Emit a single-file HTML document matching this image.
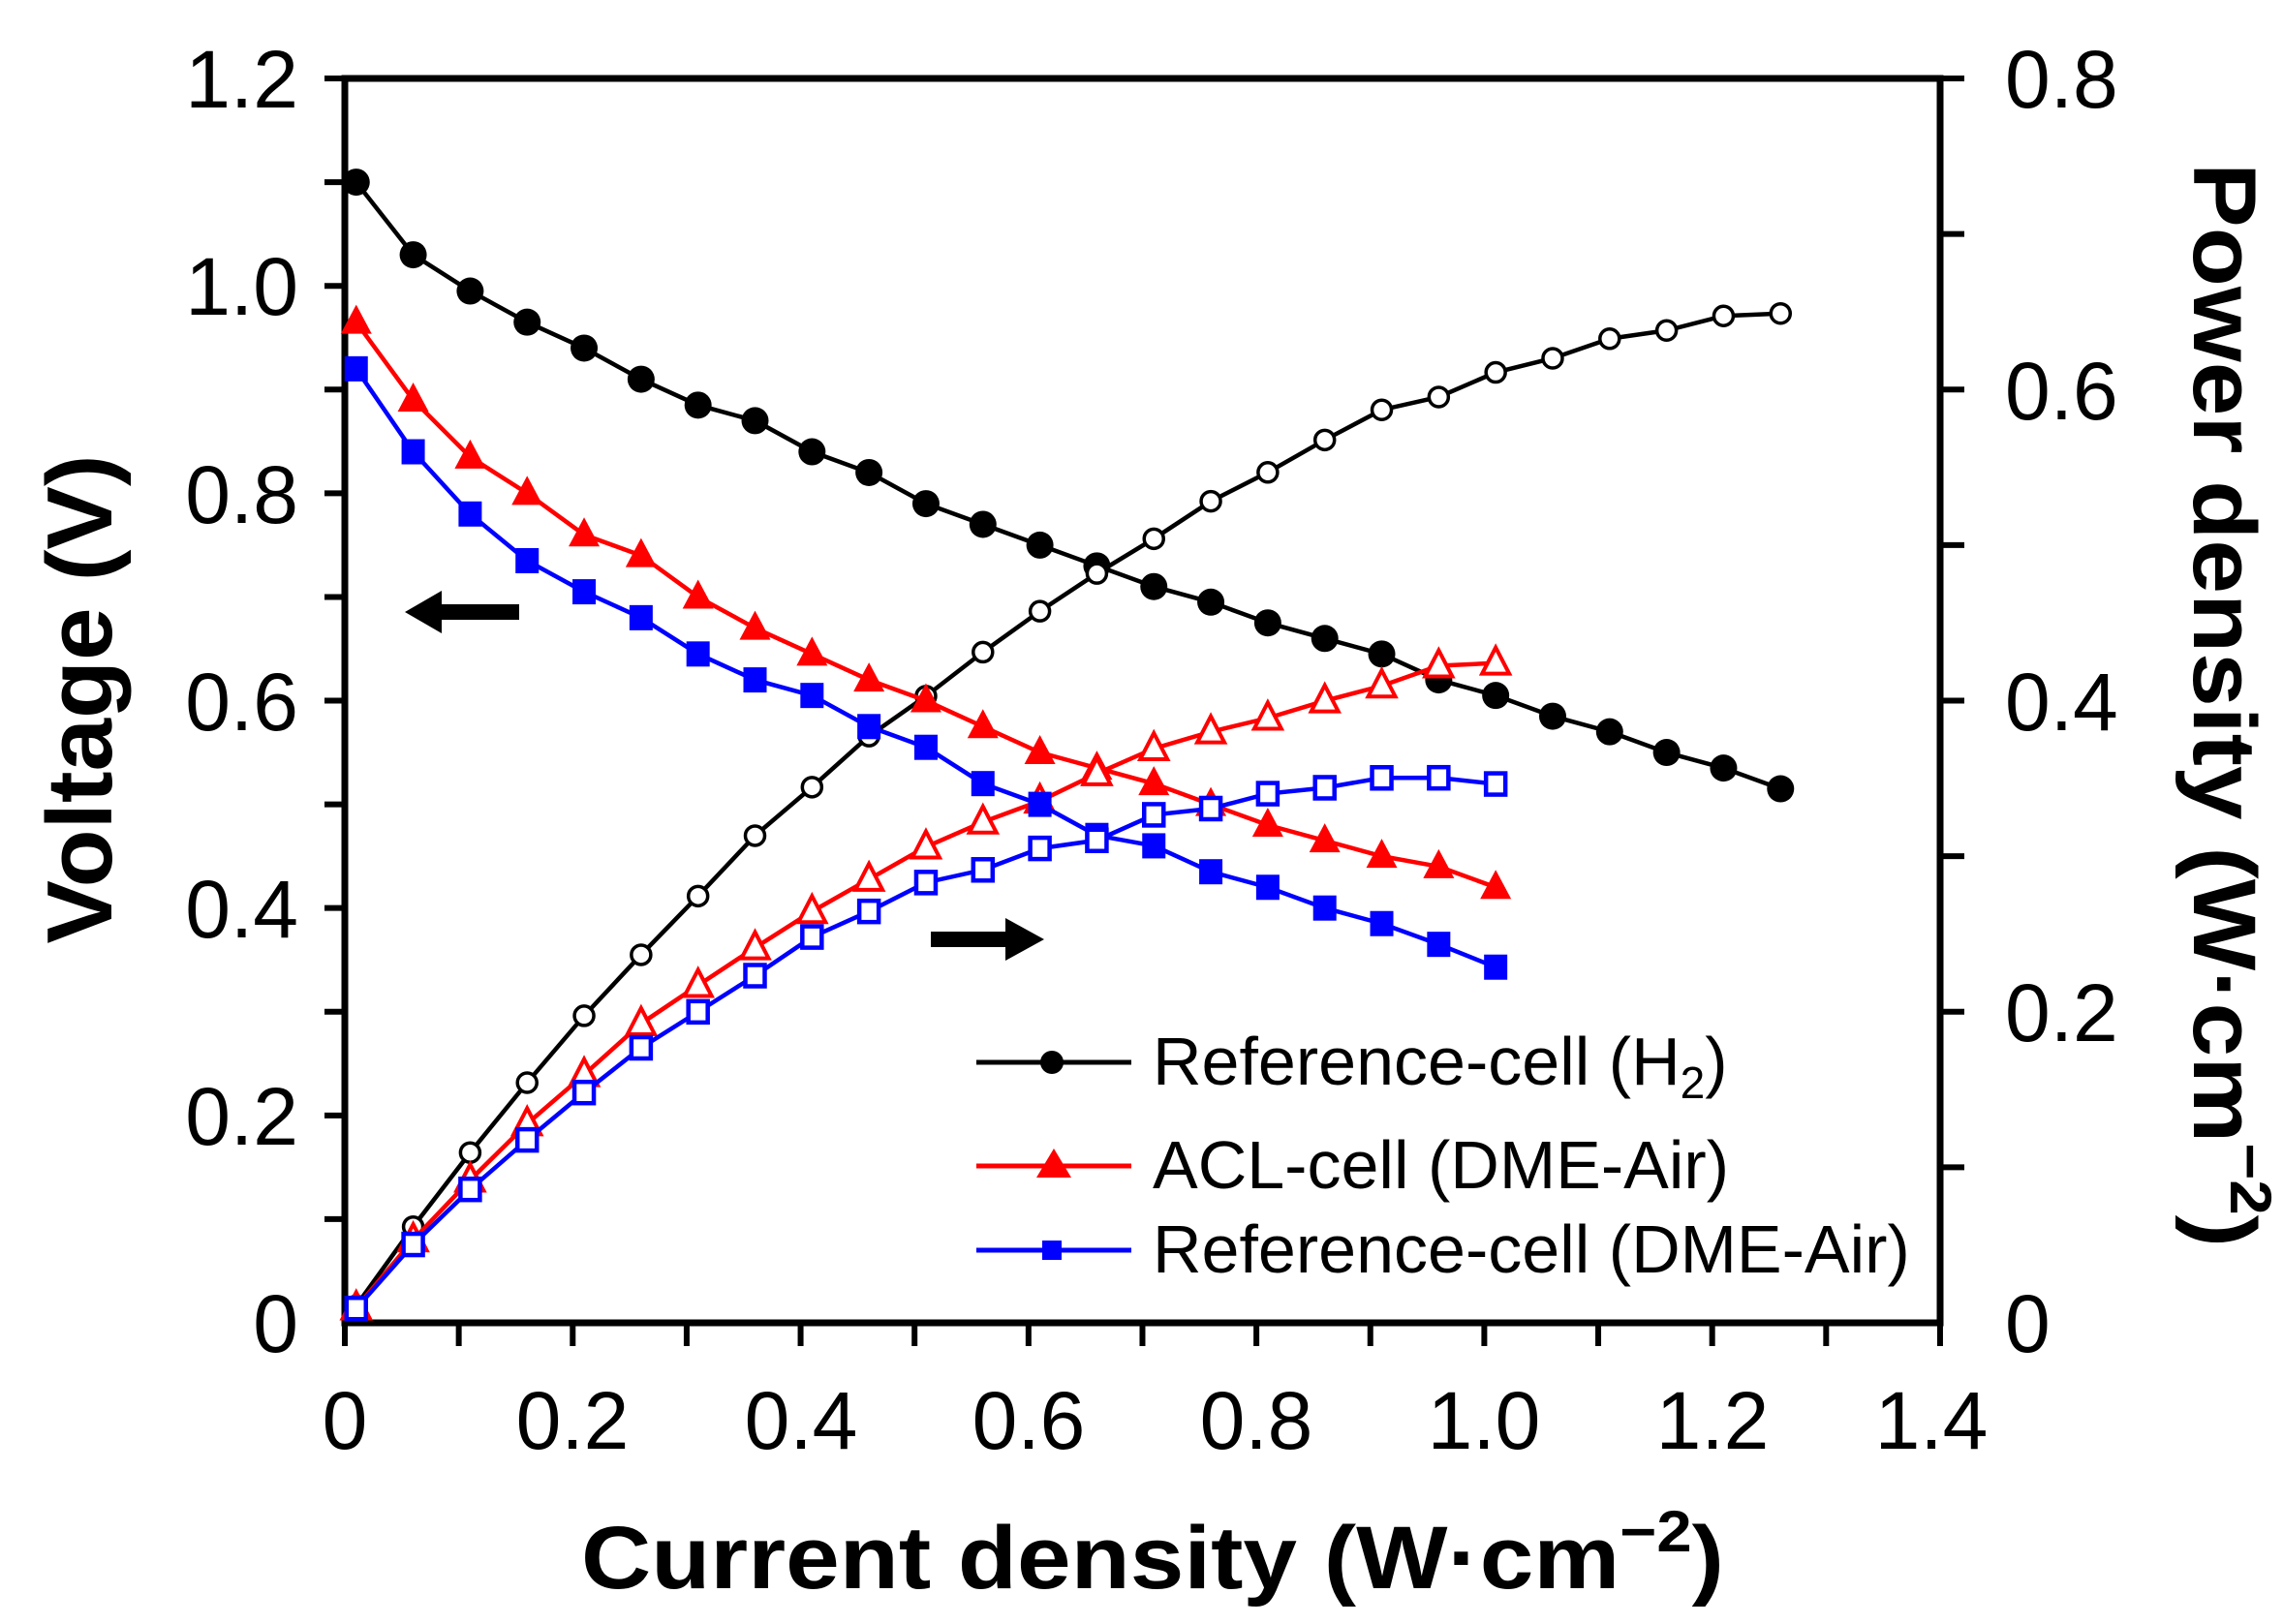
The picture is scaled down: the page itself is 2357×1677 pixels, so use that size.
<!DOCTYPE html>
<html><head><meta charset="utf-8"><style>
html,body{margin:0;padding:0;background:#fff}
svg{display:block}
text{font-family:"Liberation Sans",Arial,sans-serif}
</style></head><body>
<svg id="s" width="2357" height="1677" viewBox="0 0 2357 1677" xmlns="http://www.w3.org/2000/svg">
<g id="ax" stroke="#000" stroke-width="7" fill="none">
<rect x="356" y="81" width="1647" height="1285"/>
</g>
<g id="ticks" stroke="#000" stroke-width="6"></g>
<g id="data"></g>
<g font-size="84" fill="#000">
<text x="308" y="1396" text-anchor="end">0</text>
<text x="308" y="1182" text-anchor="end">0.2</text>
<text x="308" y="968" text-anchor="end">0.4</text>
<text x="308" y="754" text-anchor="end">0.6</text>
<text x="308" y="540" text-anchor="end">0.8</text>
<text x="308" y="325" text-anchor="end">1.0</text>
<text x="308" y="111" text-anchor="end">1.2</text>
<text x="356" y="1496" text-anchor="middle">0</text>
<text x="591" y="1496" text-anchor="middle">0.2</text>
<text x="827" y="1496" text-anchor="middle">0.4</text>
<text x="1062" y="1496" text-anchor="middle">0.6</text>
<text x="1297" y="1496" text-anchor="middle">0.8</text>
<text x="1532" y="1496" text-anchor="middle">1.0</text>
<text x="1768" y="1496" text-anchor="middle">1.2</text>
<text x="1994" y="1496" text-anchor="middle">1.4</text>
<text x="2070" y="1396">0</text>
<text x="2070" y="1075">0.2</text>
<text x="2070" y="754">0.4</text>
<text x="2070" y="433">0.6</text>
<text x="2070" y="111">0.8</text>
</g>
<text x="0" y="0" font-size="96" font-weight="bold" text-anchor="middle" transform="translate(115 722) rotate(-90)" textLength="505" lengthAdjust="spacingAndGlyphs">Voltage (V)</text>
<text x="1190" y="1640" font-size="92" font-weight="bold" text-anchor="middle" textLength="1180" lengthAdjust="spacingAndGlyphs">Current density (W·cm<tspan font-size="60" dy="-38">−2</tspan><tspan dy="38">)</tspan></text>
<text x="0" y="0" font-size="92" font-weight="bold" text-anchor="middle" transform="translate(2265 728) rotate(90)" textLength="1120" lengthAdjust="spacingAndGlyphs">Power density (W·cm<tspan font-size="60" dy="-38">−2</tspan><tspan dy="38">)</tspan></text>
<g stroke="#000" stroke-width="16" fill="#000">
<line x1="450" y1="632" x2="536" y2="632"/><polygon points="418,632 456,610 456,654" stroke="none"/>
<line x1="961" y1="970" x2="1040" y2="970"/><polygon points="1078,970 1038,948 1038,992" stroke="none"/>
</g>
<g font-size="70" fill="#000">
<text x="1190" y="1120">Reference-cell (H<tspan font-size="46" dy="14">2</tspan><tspan dy="-14">)</tspan></text>
<text x="1190" y="1227">ACL-cell (DME-Air)</text>
<text x="1190" y="1314">Reference-cell (DME-Air)</text>
</g>
<g stroke-width="5">
<line x1="1008" y1="1097" x2="1168" y2="1097" stroke="#000"/><circle cx="1086" cy="1097" r="12" fill="#000"/>
<line x1="1008" y1="1204" x2="1168" y2="1204" stroke="#f00"/><polygon points="1088,1186 1106,1216 1070,1216" fill="#f00"/>
<line x1="1008" y1="1291" x2="1168" y2="1291" stroke="#00f"/><rect x="1076" y="1281" width="20" height="20" fill="#00f"/>
</g>
</svg>
<script>
var NS="http://www.w3.org/2000/svg",d=document.getElementById("data"),t=document.getElementById("ticks");
function X(x){return 356+x*1176.4}function Y(v){return 1366-v*1070.8}function P(p){return 1366-p*1606.2}
function el(n,a,p){var e=document.createElementNS(NS,n);for(var k in a)e.setAttribute(k,a[k]);(p||d).appendChild(e);return e}
for(var i=1;i<=12;i++)el("line",{x1:335,x2:356,y1:Y(i/10),y2:Y(i/10)},t);
for(var i=1;i<=14;i++)el("line",{y1:1366,y2:1390,x1:X(i/10),x2:X(i/10)},t);
el("line",{y1:1366,y2:1390,x1:356,x2:356},t);
for(var i=1;i<=8;i++)el("line",{x1:2003,x2:2028,y1:P(i/10),y2:P(i/10)},t);
var H=[1.10,1.03,0.995,0.965,0.94,0.91,0.885,0.87,0.84,0.82,0.79,0.77,0.75,0.73,0.71,0.695,0.675,0.66,0.645,0.62,0.605,0.585,0.57,0.55,0.535,0.515];
var A=[0.965,0.89,0.835,0.80,0.76,0.74,0.70,0.67,0.645,0.62,0.60,0.575,0.55,0.535,0.52,0.50,0.48,0.465,0.45,0.44,0.42];
var B=[0.92,0.84,0.78,0.735,0.705,0.68,0.645,0.62,0.605,0.575,0.555,0.52,0.50,0.47,0.46,0.435,0.42,0.40,0.385,0.365,0.343];
function xs(i){return 0.01+0.05*i}
function series(arr,col,fn,isP){var pts=arr.map(function(v,i){var x=xs(i);return [X(x),isP?P(x*v):Y(v)]});
el("polyline",{points:pts.map(function(p){return p.join(",")}).join(" "),fill:"none",stroke:col,"stroke-width":4.5});
pts.forEach(function(p){fn(p[0],p[1])});}
series(H,"#000",function(x,y){el("circle",{cx:x,cy:y,r:14,fill:"#000"})});
series(H,"#000",function(x,y){el("circle",{cx:x,cy:y,r:10,fill:"#fff",stroke:"#000","stroke-width":3.5})},true);
series(A,"#f00",function(x,y){el("polygon",{points:(x)+","+(y-18)+" "+(x+16)+","+(y+12)+" "+(x-16)+","+(y+12),fill:"#f00"})});
series(A,"#f00",function(x,y){el("polygon",{points:(x)+","+(y-16)+" "+(x+14)+","+(y+11)+" "+(x-14)+","+(y+11),fill:"#fff",stroke:"#f00","stroke-width":4})},true);
series(B,"#00f",function(x,y){el("rect",{x:x-12,y:y-13,width:24,height:26,fill:"#00f"})});
series(B,"#00f",function(x,y){el("rect",{x:x-10,y:y-11,width:20,height:22,fill:"#fff",stroke:"#00f","stroke-width":4.5})},true);
</script>
</body></html>
